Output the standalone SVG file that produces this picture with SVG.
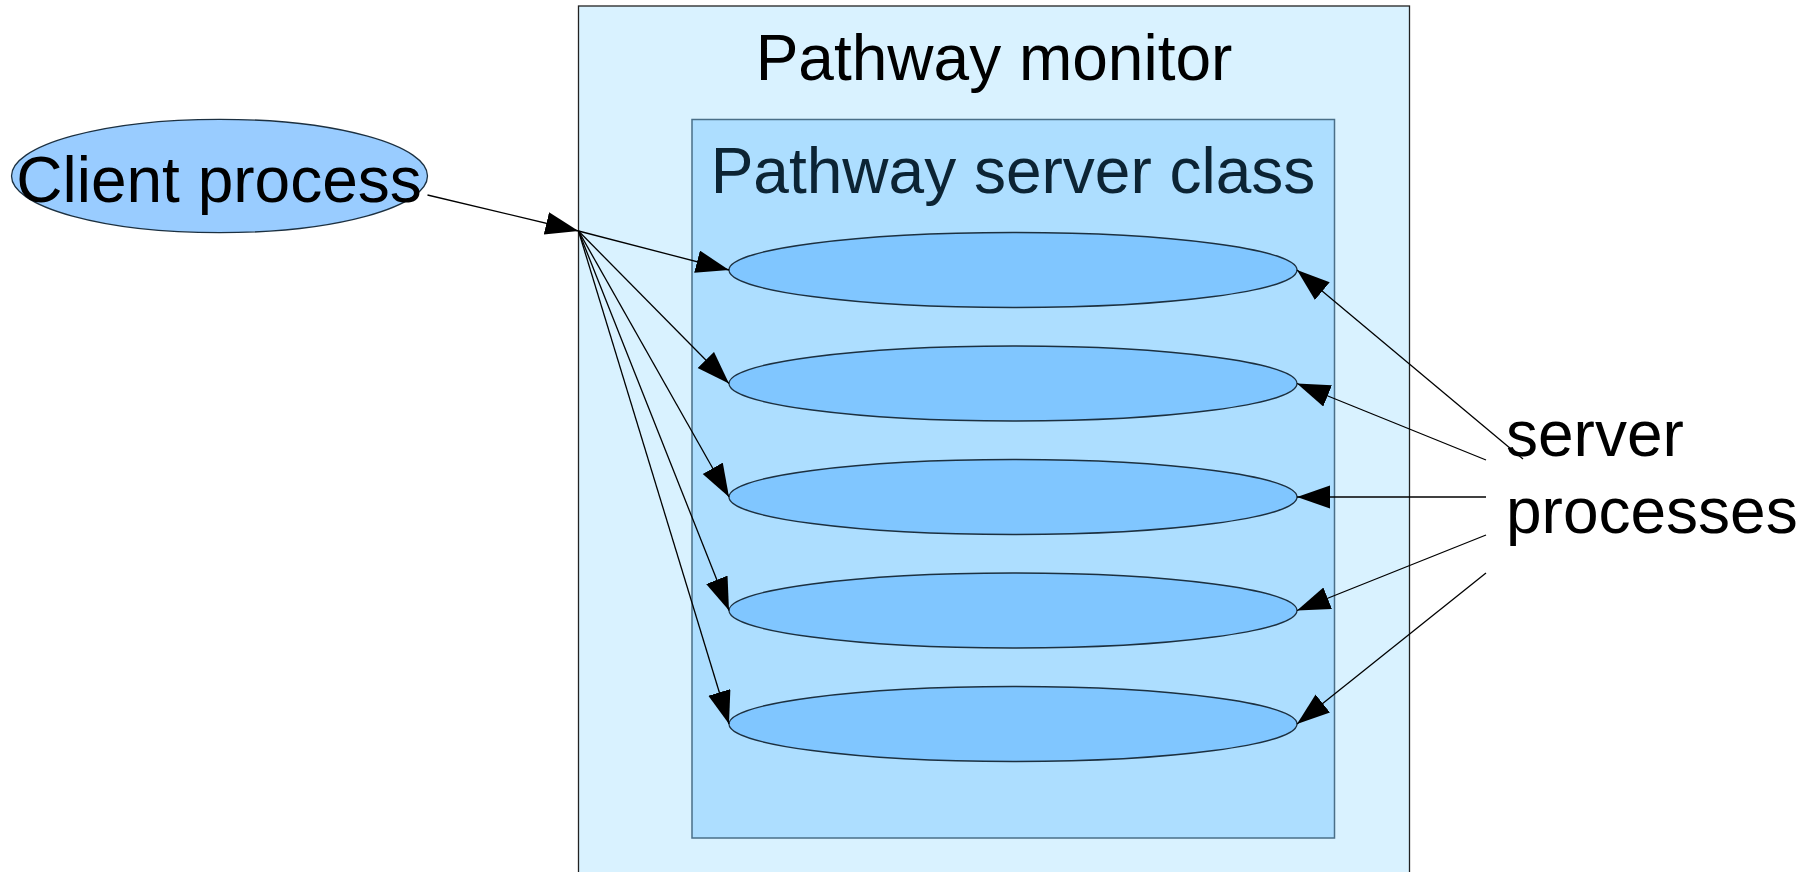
<svg xmlns="http://www.w3.org/2000/svg" width="1812" height="872" viewBox="0 0 1812 872">
<style>
.lbl{font-family:"Liberation Sans",Arial,sans-serif;font-size:64px;fill:#000}
.conn{stroke:#000;stroke-width:1.3;fill:none;marker-end:url(#arr)}
.srv{fill:#80c6ff;stroke:#1c3040;stroke-width:1.3}
</style>
<defs>
<marker id="arr" markerUnits="userSpaceOnUse" markerWidth="34" markerHeight="24" viewBox="0 0 34 24" refX="33" refY="11.5" orient="auto">
<path d="M0,0 L33,11.5 L0,23 z" fill="#000"/>
</marker>
</defs>
<rect width="1812" height="872" fill="#fff"/>
<g id="monitor">
<rect x="578.5" y="6" width="831" height="880" fill="#d9f2ff" stroke="#222" stroke-width="1.3"/>
<text class="lbl" x="994" y="80" text-anchor="middle">Pathway monitor</text>
</g>
<g id="serverclass">
<rect x="692" y="119.5" width="642.5" height="718.5" fill="#addeff" stroke="#4a6f88" stroke-width="1.5"/>
<text class="lbl" x="1013" y="193" text-anchor="middle" style="fill:#0c2434">Pathway server class</text>
</g>
<g id="client">
<ellipse cx="219.5" cy="176" rx="208" ry="56.7" fill="#99ccff" stroke="#1c3040" stroke-width="1.3"/>
<text class="lbl" x="219" y="202" text-anchor="middle">Client process</text>
</g>
<g id="server1"><ellipse class="srv" cx="1013" cy="270" rx="284" ry="37.5"/></g>
<g id="server2"><ellipse class="srv" cx="1013" cy="383.5" rx="284" ry="37.5"/></g>
<g id="server3"><ellipse class="srv" cx="1013" cy="497" rx="284" ry="37.5"/></g>
<g id="server4"><ellipse class="srv" cx="1013" cy="610.5" rx="284" ry="37.5"/></g>
<g id="server5"><ellipse class="srv" cx="1013" cy="724" rx="284" ry="37.5"/></g>
<g id="label-server-processes">
<text class="lbl" x="1506" y="456">server</text>
<text class="lbl" x="1506" y="533">processes</text>
</g>
<g id="connectors">
<line class="conn" x1="427.5" y1="195" x2="578.5" y2="231"/>
<line class="conn" x1="578.5" y1="231" x2="729" y2="270"/>
<line class="conn" x1="578.5" y1="231" x2="729" y2="383.5"/>
<line class="conn" x1="578.5" y1="231" x2="729" y2="497"/>
<line class="conn" x1="578.5" y1="231" x2="729" y2="610.5"/>
<line class="conn" x1="578.5" y1="231" x2="729" y2="724"/>
<line class="conn" x1="1523" y1="459" x2="1297" y2="270"/>
<line class="conn" x1="1486" y1="460" x2="1297" y2="383.5"/>
<line class="conn" x1="1486" y1="497" x2="1297" y2="497"/>
<line class="conn" x1="1486" y1="535" x2="1297" y2="610.5"/>
<line class="conn" x1="1486" y1="573" x2="1297" y2="724"/>
</g>
</svg>
